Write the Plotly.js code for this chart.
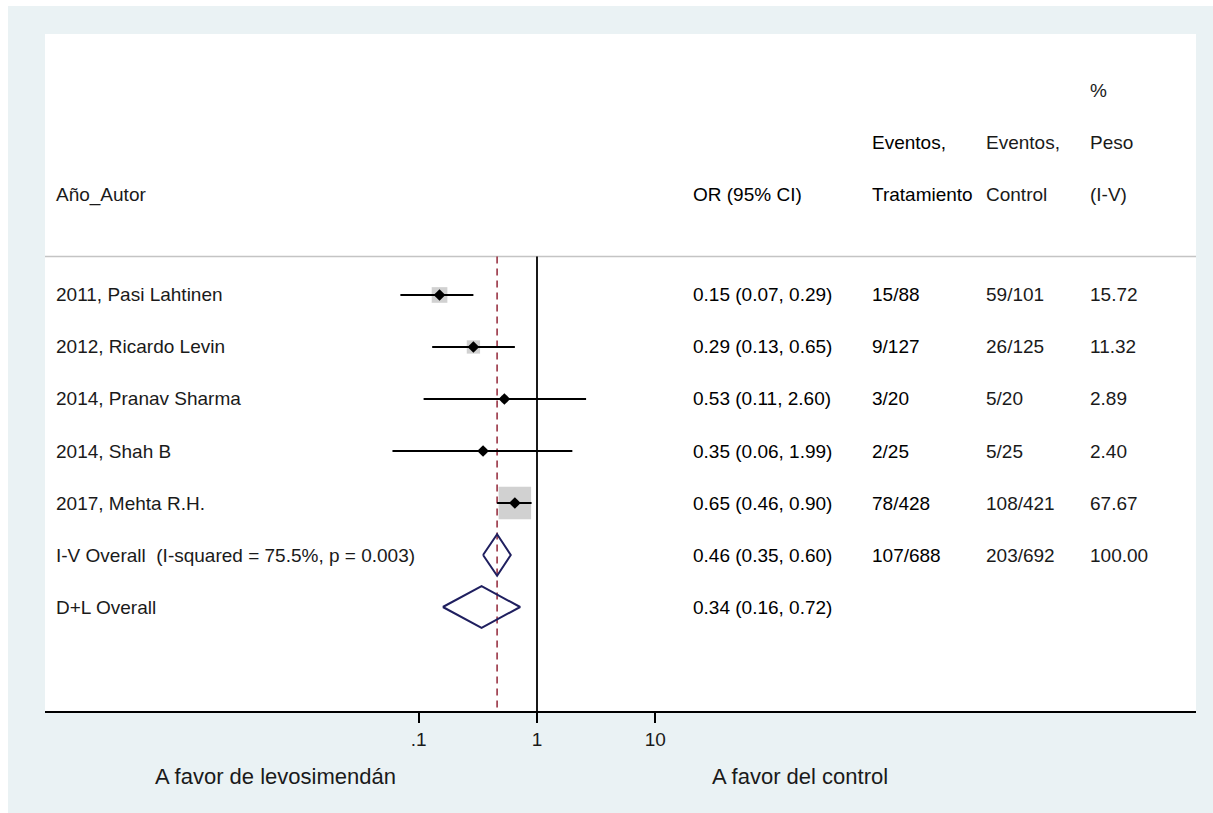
<!DOCTYPE html>
<html>
<head>
<meta charset="utf-8">
<script src="https://cdn.plot.ly/plotly-3.0.1.min.js"></script>
<style>
  html, body { margin: 0; padding: 0; background: #ffffff; }
  #chart { position: absolute; left: 8px; top: 6px; width: 1205px; height: 807px; }
</style>
</head>
<body>
<div id="chart"></div>
<script>
// ---- data ----
const studies = ['2011, Pasi Lahtinen', '2012, Ricardo Levin', '2014, Pranav Sharma', '2014, Shah B', '2017, Mehta R.H.'];
const orEst = [0.15, 0.29, 0.53, 0.35, 0.65];
const orLo  = [0.07, 0.13, 0.11, 0.06, 0.46];
const orHi  = [0.29, 0.65, 2.60, 1.99, 0.90];
const evTrt = ['15/88', '9/127', '3/20', '2/25', '78/428'];
const evCtl = ['59/101', '26/125', '5/20', '5/25', '108/421'];
const weights = [15.72, 11.32, 2.89, 2.40, 67.67];

const pooledLabels = ['I-V Overall\u00a0 (I-squared = 75.5%, p = 0.003)', 'D+L Overall'];
const pooledEst = [0.46, 0.34];
const pooledLo  = [0.35, 0.16];
const pooledHi  = [0.60, 0.72];
const pooledTrt = ['107/688', ''];
const pooledCtl = ['203/692', ''];
const pooledWt  = ['100.00', ''];

const headerLines = [
  ['', '', '', '', '%'],
  ['', '', 'Eventos,', 'Eventos,', 'Peso'],
  ['Año_Autor', 'OR (95% CI)', 'Tratamiento', 'Control', '(I-V)']
];
const tickVals = [0.1, 1, 10];
const tickText = ['.1', '1', '10'];
const sideLabels = ['A favor de levosimendán', 'A favor del control'];

// ---- layout helpers ----
const FONT = 'Liberation Sans, Arial, Helvetica, sans-serif';
const FS = 19;
const plotLeftPx = 45, plotWidthPx = 1151;
const colPx = [54, 691, 870, 984, 1088];
const colX = colPx.map(p => (p - plotLeftPx) / plotWidthPx);
const headerRows = [-3.923, -2.923, -1.923];
const sepRow = -0.74;
const yBottom = 8.0, yTop = -5.019;
const fmt = v => v.toFixed(2);

const nS = studies.length;
const studyRows = studies.map((_, i) => i);
const pooledRows = pooledLabels.map((_, i) => nS + i);

const traces = [];

// reference line at 1 and dashed overall line
traces.push({
  x: [pooledEst[0], pooledEst[0]], y: [sepRow, yBottom],
  mode: 'lines', line: { color: '#993344', width: 1.6, dash: '7px,5px' },
  hoverinfo: 'skip', showlegend: false
});
traces.push({
  x: [1, 1], y: [sepRow, yBottom],
  mode: 'lines', line: { color: '#000000', width: 1.8 },
  hoverinfo: 'skip', showlegend: false
});

// weight boxes
const maxW = Math.max(...weights);
traces.push({
  x: orEst, y: studyRows, mode: 'markers',
  marker: { symbol: 'square', color: '#BEBEBE',
            size: weights.map(w => 32.5 * Math.sqrt(w / maxW)), line: { width: 0 } },
  hoverinfo: 'skip', showlegend: false
});

// CI lines
const ciX = [], ciY = [];
for (let i = 0; i < nS; i++) {
  ciX.push(orLo[i], orHi[i], null);
  ciY.push(studyRows[i], studyRows[i], null);
}
traces.push({
  x: ciX, y: ciY, mode: 'lines', line: { color: '#000000', width: 2 },
  hoverinfo: 'skip', showlegend: false
});

// point estimates
traces.push({
  x: orEst, y: studyRows, mode: 'markers',
  marker: { symbol: 'diamond', color: '#000000', size: 9, line: { width: 0 } },
  hoverinfo: 'skip', showlegend: false
});

// pooled diamonds
const dh = 0.4;
const dX = [], dY = [];
for (let i = 0; i < pooledEst.length; i++) {
  const r = pooledRows[i];
  dX.push(pooledLo[i], pooledEst[i], pooledHi[i], pooledEst[i], pooledLo[i], null);
  dY.push(r, r - dh, r, r + dh, r, null);
}
traces.push({
  x: dX, y: dY, mode: 'lines', line: { color: '#1F1F5F', width: 2 },
  hoverinfo: 'skip', showlegend: false
});

// ---- annotations (table text) ----
const ann = [];
function addText(col, row, text, color) {
  if (!text) return;
  ann.push({
    xref: 'paper', yref: 'y', x: colX[col], y: row, text: text,
    xanchor: 'left', yanchor: 'middle', showarrow: false,
    font: { family: FONT, size: FS, color: color || '#000000' }
  });
}
headerLines.forEach((line, h) => {
  line.forEach((t, c) => addText(c, headerRows[h], t, (c === 1 || c === 2) ? '#000' : '#1a1a1a'));
});
for (let i = 0; i < nS; i++) {
  const r = studyRows[i];
  addText(0, r, studies[i], '#1a1a1a');
  addText(1, r, `${fmt(orEst[i])} (${fmt(orLo[i])}, ${fmt(orHi[i])})`, '#000');
  addText(2, r, evTrt[i], '#000');
  addText(3, r, evCtl[i], '#1a1a1a');
  addText(4, r, weights[i].toFixed(2), '#1a1a1a');
}
for (let i = 0; i < pooledLabels.length; i++) {
  const r = pooledRows[i];
  addText(0, r, pooledLabels[i], '#1a1a1a');
  addText(1, r, `${fmt(pooledEst[i])} (${fmt(pooledLo[i])}, ${fmt(pooledHi[i])})`, '#000');
  addText(2, r, pooledTrt[i], '#000');
  addText(3, r, pooledCtl[i], '#1a1a1a');
  addText(4, r, pooledWt[i], '#1a1a1a');
}
// bottom side labels
const sideX = [(275 - plotLeftPx) / plotWidthPx, (800 - plotLeftPx) / plotWidthPx];
sideLabels.forEach((t, i) => {
  ann.push({
    xref: 'paper', yref: 'paper', x: sideX[i], y: (711 - 776) / 677, text: t,
    xanchor: 'center', yanchor: 'middle', showarrow: false,
    font: { family: FONT, size: 22, color: '#1a1a1a' }
  });
});

const layout = {
  width: 1205, height: 807,
  margin: { l: 37, r: 17, t: 28, b: 102, pad: 0 },
  paper_bgcolor: '#EAF2F4',
  plot_bgcolor: '#FFFFFF',
  showlegend: false,
  xaxis: {
    type: 'log',
    range: [-(537 - 45) / 118.3, (1196 - 537) / 118.3],
    tickvals: tickVals, ticktext: tickText,
    ticks: 'outside', ticklen: 10, tickwidth: 2, tickcolor: '#000',
    showline: true, linecolor: '#000', linewidth: 2, mirror: false,
    showgrid: false, zeroline: false, fixedrange: true,
    tickfont: { family: FONT, size: 19, color: '#1a1a1a' }
  },
  yaxis: {
    range: [yBottom, yTop],
    showgrid: false, zeroline: false, showticklabels: false, showline: false,
    ticks: '', fixedrange: true
  },
  shapes: [{
    type: 'line', xref: 'paper', yref: 'y', x0: 0, x1: 1, y0: sepRow, y1: sepRow,
    line: { color: '#C4C4C4', width: 1.5 }, layer: 'below'
  }],
  annotations: ann
};

Plotly.newPlot('chart', traces, layout, { staticPlot: true, displayModeBar: false });
</script>
</body>
</html>
